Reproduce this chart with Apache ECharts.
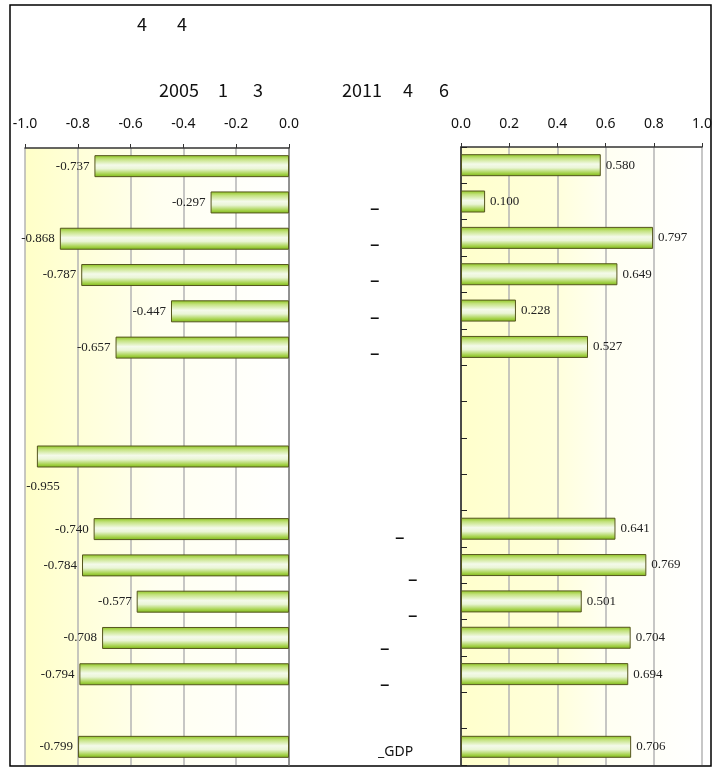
<!DOCTYPE html>
<html>
<head>
<meta charset="utf-8">
<script src="https://cdn.jsdelivr.net/npm/echarts@6/dist/echarts.min.js"></script>
<style>
  html, body { margin: 0; padding: 0; background: #ffffff; }
  #chart { width: 716px; height: 769px; }
</style>
</head>
<body>
<div id="chart"></div>
<script>
  // rows, top to bottom
  var categories = ['', '–', '–', '–', '–', '–', '', '', '', '', '–', '–', '–', '–', '–', '', '_GDP']
  var leftValues = [-0.737, -0.297, -0.868, -0.787, -0.447, -0.657, null, null, -0.955, null, -0.740, -0.784, -0.577, -0.708, -0.794, null, -0.799]
  var rightValues = [0.580, 0.100, 0.797, 0.649, 0.228, 0.527, null, null, null, null, 0.641, 0.769, 0.501, 0.704, 0.694, null, 0.706]
  var leftTicks = [-1.0, -0.8, -0.6, -0.4, -0.2, 0.0]
  var rightTicks = [0.0, 0.2, 0.4, 0.6, 0.8, 1.0]

  // which rich style each middle label uses (text offsets)
  var labelSlots = ['a', 'a', 'a', 'a', 'a', 'a', 'a', 'a', 'a', 'a', 'b', 'c', 'c', 'd', 'd', 'a', 'e']

  var chartDom = document.getElementById('chart')
  var myChart = echarts.init(chartDom)

  var barFill = new echarts.graphic.LinearGradient(0, 0, 0, 1, [
    { offset: 0, color: '#8cc41c' },
    { offset: 0.18, color: '#c3e27e' },
    { offset: 0.45, color: '#f4faea' },
    { offset: 0.62, color: '#eaf5d6' },
    { offset: 0.86, color: '#a6d24c' },
    { offset: 1, color: '#7ab516' }
  ])
  var bgFill = new echarts.graphic.LinearGradient(0, 0, 1, 0, [
    { offset: 0, color: '#ffffc8' },
    { offset: 0.5, color: '#fffff0' },
    { offset: 1, color: '#ffffff' }
  ])
  var bgFill2 = new echarts.graphic.LinearGradient(0, 0, 1, 0, [
    { offset: 0, color: '#ffffcc' },
    { offset: 0.4, color: '#ffffdc' },
    { offset: 0.6, color: '#fffff2' },
    { offset: 1, color: '#ffffff' }
  ])

  var numLabel = {
    show: true,
    fontFamily: 'Liberation Serif',
    fontSize: 13,
    color: '#222',
    distance: 5,
    formatter: function (p) { return p.value.toFixed(3) }
  }

  var leftData = leftValues.map(function (v) {
    if (v === -0.955) {
      // this one sits under its bar in the original
      return { value: v, label: { position: 'bottom', offset: [-120, 8] } }
    }
    return v
  })

  var titleStyle = { fontSize: 18, fontWeight: 'normal', color: '#111', fontFamily: 'Noto Sans CJK SC' }
  function t(text, left, top) {
    return { text: text, left: left, top: top, textStyle: titleStyle }
  }

  var option = {
    animation: false,
    title: [
      t('4', 132, 10), t('4', 172, 10),
      t('2005', 154, 76), t('1', 213, 76), t('3', 248, 76),
      t('2011', 337, 76), t('4', 398, 76), t('6', 434, 76)
    ],
    graphic: [
      {
        type: 'rect',
        shape: { x: 10, y: 5, width: 701, height: 761 },
        style: { fill: 'none', stroke: '#000', lineWidth: 1.5 },
        z: -1
      }
    ],
    grid: [
      { left: 25, width: 264, top: 148, bottom: 4, show: true, backgroundColor: bgFill, borderWidth: 0 },
      { left: 461, right: 14, top: 147, bottom: 4, show: true, backgroundColor: bgFill2, borderWidth: 0 },
      { left: 290, width: 170, top: 148, bottom: 4 }
    ],
    xAxis: [
      {
        gridIndex: 0, type: 'value', position: 'top',
        min: leftTicks[0], max: leftTicks[leftTicks.length - 1], interval: 0.2,
        axisLine: { show: true, lineStyle: { color: '#333', width: 1.5 } },
        axisTick: { show: true, length: 4, lineStyle: { color: '#333' } },
        axisLabel: {
          margin: 17, fontSize: 14, color: '#111', fontFamily: 'Noto Sans',
          formatter: function (v) { return v.toFixed(1) }
        },
        splitLine: { show: true, lineStyle: { color: '#b4b4b4', width: 1.5 } }
      },
      {
        gridIndex: 1, type: 'value', position: 'top',
        min: rightTicks[0], max: rightTicks[rightTicks.length - 1], interval: 0.2,
        axisLine: { show: true, lineStyle: { color: '#333', width: 1.5 } },
        axisTick: { show: true, length: 4, lineStyle: { color: '#333' } },
        axisLabel: {
          margin: 16, fontSize: 14, color: '#111', fontFamily: 'Noto Sans',
          formatter: function (v) { return v.toFixed(1) }
        },
        splitLine: { show: true, lineStyle: { color: '#b4b4b4', width: 1.5 } }
      },
      { gridIndex: 2, type: 'value', show: false }
    ],
    yAxis: [
      {
        gridIndex: 0, type: 'category', data: categories, inverse: true, position: 'right',
        axisLine: { show: true, lineStyle: { color: '#808080', width: 1.5 } },
        axisTick: { show: false },
        axisLabel: { show: false }
      },
      {
        gridIndex: 1, type: 'category', data: categories, inverse: true, position: 'left',
        axisLine: { show: true, lineStyle: { color: '#222', width: 1.5 } },
        axisTick: { show: true, inside: true, length: 6, lineStyle: { color: '#222' } },
        axisLabel: { show: false }
      },
      {
        gridIndex: 2, type: 'category', data: categories, inverse: true, position: 'left',
        axisLine: { show: false },
        axisTick: { show: false },
        axisLabel: {
          inside: true, margin: 0, align: 'left', verticalAlign: 'middle',
          fontFamily: 'Noto Sans', fontSize: 19, color: '#111',
          formatter: function (v, i) { return v ? '{' + labelSlots[i] + '|' + v + '}' : '' },
          rich: {
            a: { padding: [14, 0, 0, 80], fontSize: 19, color: '#111' },
            b: { padding: [20, 0, 0, 105], fontSize: 19, color: '#111' },
            c: { padding: [30, 0, 0, 118], fontSize: 19, color: '#111' },
            d: { padding: [23, 0, 0, 90], fontSize: 19, color: '#111' },
            e: { padding: [10, 0, 0, 88], fontSize: 14, color: '#111' }
          }
        }
      }
    ],
    series: [
      {
        name: 'left',
        type: 'bar',
        xAxisIndex: 0,
        yAxisIndex: 0,
        barWidth: 22,
        data: leftData,
        itemStyle: { color: barFill, borderColor: '#55551e', borderWidth: 1 },
        label: Object.assign({ position: 'left' }, numLabel)
      },
      {
        name: 'right',
        type: 'bar',
        xAxisIndex: 1,
        yAxisIndex: 1,
        barWidth: 22,
        data: rightValues,
        itemStyle: { color: barFill, borderColor: '#55551e', borderWidth: 1 },
        label: Object.assign({ position: 'right' }, numLabel)
      }
    ]
  }
  myChart.setOption(option)
</script>
</body>
</html>
